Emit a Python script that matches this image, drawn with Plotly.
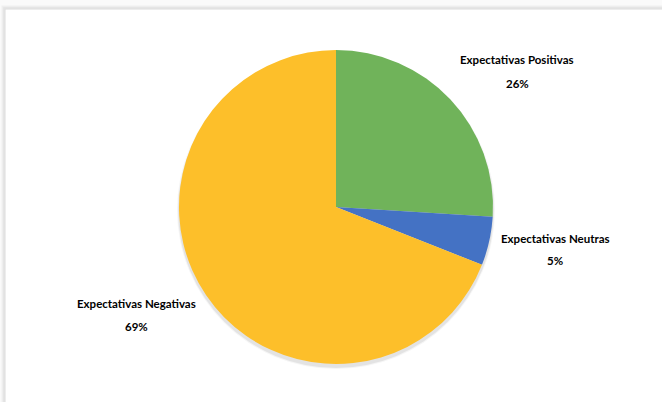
import plotly.graph_objects as go

categories = ["Expectativas Positivas", "Expectativas Neutras", "Expectativas Negativas"]
values = [26, 5, 69]
pct_labels = ["26%", "5%", "69%"]
colors = ["#70B35A", "#4472C4", "#FDBF2A"]

W, H = 662, 402
cx, cy, r = 336, 207, 157

fig = go.Figure()
fig.add_trace(go.Pie(
    labels=categories, values=values, sort=False, direction="clockwise",
    rotation=0, marker=dict(colors=colors, line=dict(width=0)),
    textinfo="none", hoverinfo="label+percent", showlegend=False,
    domain=dict(x=[(cx - r) / W, (cx + r) / W], y=[(H - cy - r) / H, (H - cy + r) / H]),
))

# label positions (pixels)
label_pos = [(517, 60, 84), (555, 238, 260), (136, 303, 326)]
font = dict(family="Lato, Open Sans, sans-serif", size=11.5, color="#000000")
for cat, pct, (x, y1, y2) in zip(categories, pct_labels, label_pos):
    fig.add_annotation(x=x / W, y=1 - y1 / H, xref="paper", yref="paper",
                       text="<b>" + cat + "</b>", showarrow=False, font=font,
                       xanchor="center", yanchor="middle")
    fig.add_annotation(x=x / W, y=1 - y2 / H, xref="paper", yref="paper",
                       text="<b>" + pct + "</b>", showarrow=False, font=font,
                       xanchor="center", yanchor="middle")

# chart frame with soft shadow
shapes = []
for i, c in enumerate(["#f4f4f4", "#ececec", "#e2e2e2"]):
    shapes.append(dict(type="rect", xref="paper", yref="paper",
                       x0=(5 - 3 + i) / W, y0=-0.05, x1=1.05, y1=1 - (9 - 3 + i) / H,
                       line=dict(color=c, width=1.5), fillcolor="rgba(0,0,0,0)", layer="below"))
shapes.append(dict(type="rect", xref="paper", yref="paper",
                   x0=5 / W, y0=-0.05, x1=1.05, y1=1 - 9 / H,
                   line=dict(color="#dcdcdc", width=1), fillcolor="white", layer="below"))
# pie shadow
for i, c in enumerate(["rgba(0,0,0,0.04)", "rgba(0,0,0,0.07)"]):
    rr = r + 2 - i
    shapes.append(dict(type="circle", xref="paper", yref="paper",
                       x0=(cx - rr) / W, x1=(cx + rr) / W,
                       y0=(H - cy - 3 - rr) / H, y1=(H - cy - 3 + rr) / H,
                       line=dict(width=0), fillcolor=c, layer="below"))

fig.update_layout(
    width=W, height=H, margin=dict(l=0, r=0, t=0, b=0),
    paper_bgcolor="#fafafa", plot_bgcolor="white", shapes=shapes,
)
fig.write_html("out.html", config={"displayModeBar": False},
               post_script="document.body.style.margin='0';document.body.style.overflow='hidden';")
